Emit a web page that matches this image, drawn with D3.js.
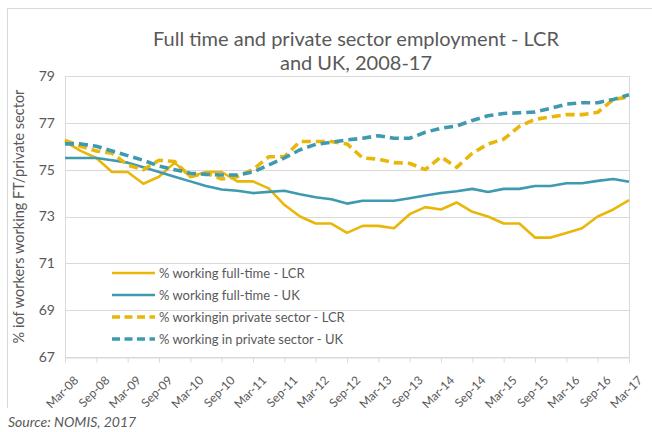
<!DOCTYPE html>
<html>
<head>
<meta charset="utf-8">
<script src="https://cdn.jsdelivr.net/npm/d3@7"></script>
<style>
  html, body { margin: 0; padding: 0; background: #fff; }
  svg { display: block; }
  text { font-family: Lato, "Open Sans", sans-serif; }
</style>
</head>
<body>
<svg id="chart" width="652" height="432"></svg>
<script>
// ---- data ----
const quarters = ["Mar-08","Jun-08","Sep-08","Dec-08","Mar-09","Jun-09","Sep-09","Dec-09",
  "Mar-10","Jun-10","Sep-10","Dec-10","Mar-11","Jun-11","Sep-11","Dec-11",
  "Mar-12","Jun-12","Sep-12","Dec-12","Mar-13","Jun-13","Sep-13","Dec-13",
  "Mar-14","Jun-14","Sep-14","Dec-14","Mar-15","Jun-15","Sep-15","Dec-15",
  "Mar-16","Jun-16","Sep-16","Dec-16","Mar-17"];

const tickLabels = ["Mar-08","Sep-08","Mar-09","Sep-09","Mar-10","Sep-10","Mar-11","Sep-11",
  "Mar-12","Sep-12","Mar-13","Sep-13","Mar-14","Sep-14","Mar-15","Sep-15","Mar-16","Sep-16","Mar-17"];

const yTicks = [67, 69, 71, 73, 75, 77, 79];

const ftLCR = [76.2,75.8,75.5,74.9,74.9,74.4,74.7,75.3,74.7,74.9,74.9,74.5,74.5,74.2,73.5,73.0,
  72.7,72.7,72.3,72.6,72.6,72.5,73.1,73.4,73.3,73.6,73.2,73.0,72.7,72.7,72.1,72.1,
  72.3,72.5,73.0,73.3,73.7];

const ftUK = [75.5,75.5,75.5,75.4,75.3,75.1,74.9,74.7,74.5,74.3,74.15,74.1,74.0,74.05,74.1,73.95,
  73.82,73.74,73.55,73.67,73.67,73.67,73.78,73.9,74.0,74.08,74.18,74.05,74.18,74.18,74.3,74.3,
  74.42,74.42,74.52,74.6,74.48];

const psLCR = [76.25,76.0,75.8,75.7,75.2,75.0,75.4,75.35,74.7,74.85,74.6,74.7,75.0,75.55,75.55,76.2,
  76.2,76.2,76.1,75.5,75.45,75.3,75.27,75.0,75.55,75.1,75.7,76.1,76.3,76.85,77.15,77.25,
  77.35,77.35,77.45,78.0,78.1];

const psUK = [76.1,76.1,76.0,75.8,75.6,75.4,75.15,75.0,74.85,74.8,74.77,74.77,74.9,75.2,75.5,75.85,
  76.08,76.17,76.27,76.34,76.45,76.34,76.34,76.6,76.77,76.87,77.1,77.3,77.4,77.43,77.46,77.62,
  77.8,77.86,77.86,78.0,78.2];

const seriesNames = ["% working full-time - LCR","% working full-time - UK",
  "% workingin private sector - LCR","% working in private sector - UK"];

// ---- styles ----
const YELLOW = "#E8B70A";
const BLUE = "#3F9AB0";
const GRID = "#d9d9d9";
const TEXT = "#595959";

const series = [
  {name: seriesNames[0], values: ftLCR, color: YELLOW, dash: null, width: 2.6},
  {name: seriesNames[1], values: ftUK,  color: BLUE,   dash: null, width: 2.6},
  {name: seriesNames[2], values: psLCR, color: YELLOW, dash: "9,5", width: 3.6},
  {name: seriesNames[3], values: psUK,  color: BLUE,   dash: "9,5", width: 3.6}
];

const svg = d3.select("#chart");

// outer chart border (top + left visible)
svg.append("line").attr("x1", 7.5).attr("x2", 652).attr("y1", 8.5).attr("y2", 8.5)
  .attr("stroke", GRID).attr("stroke-width", 1);
svg.append("line").attr("x1", 7.5).attr("x2", 7.5).attr("y1", 8.5).attr("y2", 408)
  .attr("stroke", GRID).attr("stroke-width", 1);

const plot = {left: 65, right: 629, top: 76, bottom: 357};

const x = d3.scalePoint().domain(quarters).range([plot.left, plot.right]);
const y = d3.scaleLinear().domain([67, 79]).range([plot.bottom, plot.top]);

// gridlines
svg.append("g").selectAll("line").data(yTicks).join("line")
  .attr("x1", plot.left).attr("x2", plot.right)
  .attr("y1", d => Math.round(y(d)) + 0.5).attr("y2", d => Math.round(y(d)) + 0.5)
  .attr("stroke", GRID).attr("stroke-width", 1);

// plot area side borders
svg.append("line").attr("x1", plot.left + 0.5).attr("x2", plot.left + 0.5)
  .attr("y1", plot.top).attr("y2", plot.bottom).attr("stroke", GRID);
svg.append("line").attr("x1", plot.right + 0.5).attr("x2", plot.right + 0.5)
  .attr("y1", plot.top).attr("y2", plot.bottom).attr("stroke", GRID);

// y axis labels
const yAxis = d3.axisLeft(y).tickValues(yTicks).tickSize(0).tickPadding(10).tickFormat(d3.format("d"));
const gy = svg.append("g").attr("transform", `translate(${plot.left},0)`).call(yAxis);
gy.select(".domain").remove();
gy.selectAll("text").attr("fill", TEXT).style("font-size", "14px").style("font-family", "Lato, sans-serif");

// x axis
const xAxis = d3.axisBottom(x).tickValues(tickLabels).tickSize(5).tickPadding(3);
const gx = svg.append("g").attr("transform", `translate(0,${Math.round(y(67)) + 0.5})`).call(xAxis);
gx.select(".domain").attr("stroke", GRID);
gx.selectAll(".tick line").attr("stroke", GRID);
gx.selectAll("text")
  .attr("fill", TEXT)
  .style("font-size", "12px").style("font-family", "Lato, sans-serif")
  .attr("text-anchor", "end")
  .attr("dy", "0.35em")
  .attr("transform", "translate(5,15) rotate(-45)");

// lines
const lineGen = d3.line().x((d, i) => x(quarters[i])).y(d => y(d));
svg.append("g").selectAll("path").data(series).join("path")
  .attr("d", s => lineGen(s.values))
  .attr("fill", "none")
  .attr("stroke", s => s.color)
  .attr("stroke-width", s => s.width)
  .attr("stroke-dasharray", s => s.dash)
  .attr("stroke-linejoin", "round");

// legend
const legendY = [273, 295, 317, 339];
const lg = svg.append("g");
series.forEach((s, i) => {
  lg.append("line").attr("x1", 112).attr("x2", 155)
    .attr("y1", legendY[i]).attr("y2", legendY[i])
    .attr("stroke", s.color).attr("stroke-width", s.width)
    .attr("stroke-dasharray", s.dash ? "8,4.5" : null);
  lg.append("text").attr("x", 159).attr("y", legendY[i]).attr("dy", "0.35em")
    .attr("fill", TEXT).style("font-size", "13px").text(s.name);
});

// title
const title = svg.append("text").attr("x", 356).attr("text-anchor", "middle")
  .attr("fill", TEXT).style("font-size", "20px");
title.append("tspan").attr("x", 356).attr("y", 46).text("Full time and private sector employment - LCR");
title.append("tspan").attr("x", 356).attr("y", 70).text("and UK, 2008-17");

// y axis title
svg.append("text")
  .attr("transform", `translate(24,${(plot.top + plot.bottom) / 2}) rotate(-90)`)
  .attr("text-anchor", "middle").attr("fill", TEXT).style("font-size", "14.5px")
  .text("% iof workers working FT/private sector");

// source
svg.append("text").attr("x", 8).attr("y", 427)
  .attr("fill", TEXT).style("font-size", "14px").style("font-style", "italic")
  .text("Source: NOMIS, 2017");
</script>
</body>
</html>
